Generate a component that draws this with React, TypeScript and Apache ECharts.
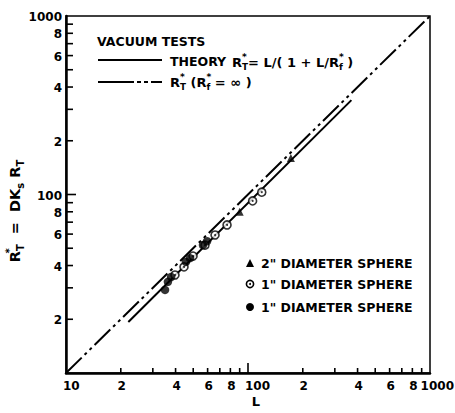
import React, { useEffect, useRef } from "react";
import * as echarts from "echarts";

// ---- data ----
const infiniteL = [10, 1000];
const infiniteR = [10, 1000];
const theoryL = [22, 370];
const theoryR = [19.3, 338];
const sphere2L = [90, 172];
const sphere2R = [80, 160];
const openL = [39.7, 44.5, 49.9, 58, 65.9, 76.7, 106, 119];
const openR = [35.4, 39.3, 45.2, 52, 59.3, 67.5, 92, 103];
const filledL = [35, 36.3, 37.8, 45.6, 48, 56.6, 59.6];
const filledR = [29.2, 32.4, 34.5, 41.9, 44, 52.1, 54.8];

const xTickLabelValues = [10, 20, 40, 60, 80, 100, 200, 400, 600, 800, 1000];
const xTickLabels = ["10", "2", "4", "6", "8", "100", "2", "4", "6", "8", "1000"];
const yTickLabelValues = [20, 40, 60, 80, 100, 200, 400, 600, 800, 1000];
const yTickLabels = ["2", "4", "6", "8", "100", "2", "4", "6", "8", "1000"];
const minorTickValues = [20, 30, 40, 50, 60, 70, 80, 90, 200, 300, 400, 500, 600, 700, 800, 900];
const majorTickValues = [100];

const FONT = "DejaVu Sans";
const zip = (a: number[], b: number[]) => a.map((v, i) => [v, b[i]]);

const mkRich = (size: number) => ({
  r: { fontSize: size, fontWeight: "bold", fontFamily: FONT, fill: "#000", lineHeight: size + 6, verticalAlign: "middle" },
  sup: { fontSize: size * 0.7, fontWeight: "bold", fontFamily: FONT, fill: "#000", lineHeight: size * 0.7, verticalAlign: "top", width: 0 },
  sub: { fontSize: size * 0.68, fontWeight: "bold", fontFamily: FONT, fill: "#000", lineHeight: size * 0.7, verticalAlign: "bottom" },
});

export default function App() {
  const ref = useRef<HTMLDivElement>(null);
  useEffect(() => {
    if (!ref.current) return;
    const chart = echarts.init(ref.current, undefined, { renderer: "svg" });
    const chartWidth = 455;

    const xTick = (len: number, vals: number[]) => ({
      type: "custom",
      coordinateSystem: "cartesian2d",
      silent: true,
      z: 4,
      data: vals.map((v) => [v, 10]),
      renderItem: (params: any, api: any) => {
        const p = api.coord([api.value(0), api.value(1)]);
        return {
          type: "line",
          shape: { x1: p[0], y1: p[1], x2: p[0], y2: p[1] - len },
          style: { stroke: "#000", lineWidth: 1.6 },
        };
      },
    });
    const yTick = (len: number, vals: number[]) => ({
      type: "custom",
      coordinateSystem: "cartesian2d",
      silent: true,
      z: 4,
      data: vals.map((v) => [10, v]),
      renderItem: (params: any, api: any) => {
        const p = api.coord([api.value(0), api.value(1)]);
        return {
          type: "line",
          shape: { x1: p[0], y1: p[1], x2: p[0] + len, y2: p[1] },
          style: { stroke: "#000", lineWidth: 1.6 },
        };
      },
    });

    const option: any = {
      animation: false,
      backgroundColor: "#fff",
      textStyle: { fontFamily: FONT, fontWeight: "bold", color: "#000" },
      grid: { left: 66, top: 16, right: 25, bottom: 40, show: true, borderColor: "#000", borderWidth: 1.5 },
      xAxis: {
        type: "log",
        logBase: 10,
        min: 10,
        max: 1000,
        axisLine: { show: true, onZero: false, lineStyle: { color: "#000", width: 2.5 } },
        axisTick: { show: false },
        axisLabel: { show: false },
        splitLine: { show: false },
        minorTick: { show: false },
        name: "L",
        nameLocation: "middle",
        nameGap: 22,
        nameTextStyle: { fontSize: 13, fontWeight: "bold", fontFamily: FONT, color: "#000", padding: [0, 0, 0, 16] },
      },
      yAxis: {
        type: "log",
        logBase: 10,
        min: 10,
        max: 1000,
        axisLine: { show: true, onZero: false, lineStyle: { color: "#000", width: 2.5 } },
        axisTick: { show: false },
        axisLabel: { show: false },
        splitLine: { show: false },
        minorTick: { show: false },
      },
      graphic: [
        {
          type: "text",
          x: 15,
          y: 211,
          rotation: Math.PI / 2,
          style: {
            text: "{r|R}{sup|*}{sub|T}{r|  =  DK}{sub|s}{r| R}{sub|T}",
            rich: mkRich(14.5),
            align: "center",
            verticalAlign: "middle",
          },
        },
        {
          type: "text",
          x: 97,
          y: 41,
          style: { text: "VACUUM TESTS", font: `bold 12.5px "${FONT}"`, fill: "#000", align: "left", verticalAlign: "middle" },
        },
        { type: "line", shape: { x1: 98, y1: 60, x2: 162, y2: 60 }, style: { stroke: "#000", lineWidth: 2 } },
        {
          type: "text",
          x: 170,
          y: 61,
          style: { text: "THEORY", font: `bold 12.5px "${FONT}"`, fill: "#000", align: "left", verticalAlign: "middle" },
        },
        {
          type: "text",
          x: 232,
          y: 62,
          style: {
            text: "{r|R}{sup|*}{sub|T}{r|= L/( 1 + L/R}{sup|*}{sub|f}{r| )}",
            rich: mkRich(13),
            align: "left",
            verticalAlign: "middle",
          },
        },
        {
          type: "line",
          shape: { x1: 98, y1: 82, x2: 162, y2: 82 },
          style: { stroke: "#000", lineWidth: 2, lineDash: [36, 3, 4, 3, 4, 3] },
        },
        {
          type: "text",
          x: 170,
          y: 82,
          style: {
            text: "{r|R}{sup|*}{sub|T}{r| (R}{sup|*}{sub|f}{r| = ∞ )}",
            rich: mkRich(13),
            align: "left",
            verticalAlign: "middle",
          },
        },
        // lower-right legend
        { type: "polygon", shape: { points: [[250, 259], [246, 267], [254, 267]] }, style: { fill: "#000" } },
        {
          type: "text",
          x: 261,
          y: 263,
          style: { text: '2" DIAMETER SPHERE', font: `bold 12.5px "${FONT}"`, fill: "#000", align: "left", verticalAlign: "middle" },
        },
        { type: "circle", shape: { cx: 250, cy: 284, r: 3.6 }, style: { fill: "#fff", stroke: "#000", lineWidth: 1.6 } },
        { type: "circle", shape: { cx: 250, cy: 284, r: 1 }, style: { fill: "#000" } },
        {
          type: "text",
          x: 261,
          y: 284,
          style: { text: '1" DIAMETER SPHERE', font: `bold 12.5px "${FONT}"`, fill: "#000", align: "left", verticalAlign: "middle" },
        },
        { type: "circle", shape: { cx: 250, cy: 307, r: 4 }, style: { fill: "#000" } },
        {
          type: "text",
          x: 261,
          y: 307,
          style: { text: '1" DIAMETER SPHERE', font: `bold 12.5px "${FONT}"`, fill: "#000", align: "left", verticalAlign: "middle" },
        },
      ],
      series: [
        {
          name: "R*T (R*f = ∞)",
          type: "line",
          data: zip(infiniteL, infiniteR),
          symbol: "none",
          lineStyle: { color: "#000", width: 2, type: [22, 4, 3, 4, 3, 4] },
          z: 2,
        },
        {
          name: "Theory",
          type: "line",
          data: zip(theoryL, theoryR),
          symbol: "none",
          lineStyle: { color: "#000", width: 2, type: "solid" },
          z: 2,
        },
        {
          name: '2" diameter sphere',
          type: "scatter",
          data: zip(sphere2L, sphere2R),
          symbol: "triangle",
          symbolSize: 8,
          itemStyle: { color: "#000" },
          z: 5,
        },
        {
          name: '1" diameter sphere (open)',
          type: "scatter",
          data: zip(openL, openR),
          symbol: "circle",
          symbolSize: 8,
          itemStyle: { color: "#fff", borderColor: "#000", borderWidth: 1.6 },
          z: 5,
        },
        {
          name: "open centre",
          type: "scatter",
          data: zip(openL, openR),
          symbol: "circle",
          symbolSize: 2,
          itemStyle: { color: "#000" },
          z: 6,
        },
        {
          name: '1" diameter sphere (filled)',
          type: "scatter",
          data: zip(filledL, filledR),
          symbol: "circle",
          symbolSize: 8.5,
          itemStyle: { color: "#000" },
          z: 5,
        },
        xTick(5, minorTickValues),
        xTick(10, majorTickValues),
        yTick(7, minorTickValues),
        yTick(10, majorTickValues),
        {
          type: "custom",
          coordinateSystem: "cartesian2d",
          silent: true,
          z: 4,
          data: xTickLabelValues.map((v) => [v, 10]),
          renderItem: (params: any, api: any) => {
            const p = api.coord([api.value(0), api.value(1)]);
            const txt = xTickLabels[params.dataIndex];
            const decade = txt.length > 1;
            const approxW = txt.length * 8.4;
            const overflow = decade && p[0] - 3 + approxW > chartWidth - 1;
            return {
              type: "text",
              x: overflow ? chartWidth - 1 : decade ? p[0] - 3 : p[0] + 1,
              y: p[1] + 7,
              style: {
                text: txt,
                font: `bold 12px "${FONT}"`,
                fill: "#000",
                align: overflow ? "right" : decade ? "left" : "center",
                verticalAlign: "top",
              },
            };
          },
        },
        {
          type: "custom",
          coordinateSystem: "cartesian2d",
          silent: true,
          z: 4,
          data: yTickLabelValues.map((v) => [10, v]),
          renderItem: (params: any, api: any) => {
            const p = api.coord([api.value(0), api.value(1)]);
            return {
              type: "text",
              x: p[0] - 4,
              y: p[1] + 1,
              style: {
                text: yTickLabels[params.dataIndex],
                font: `bold 12px "${FONT}"`,
                fill: "#000",
                align: "right",
                verticalAlign: "middle",
              },
            };
          },
        },
      ],
    };
    chart.setOption(option);
    return () => chart.dispose();
  }, []);
  return (
    <div
      ref={ref}
      style={{ position: "fixed", left: 0, top: 0, width: 455, height: 413, background: "#fff" }}
    />
  );
}
